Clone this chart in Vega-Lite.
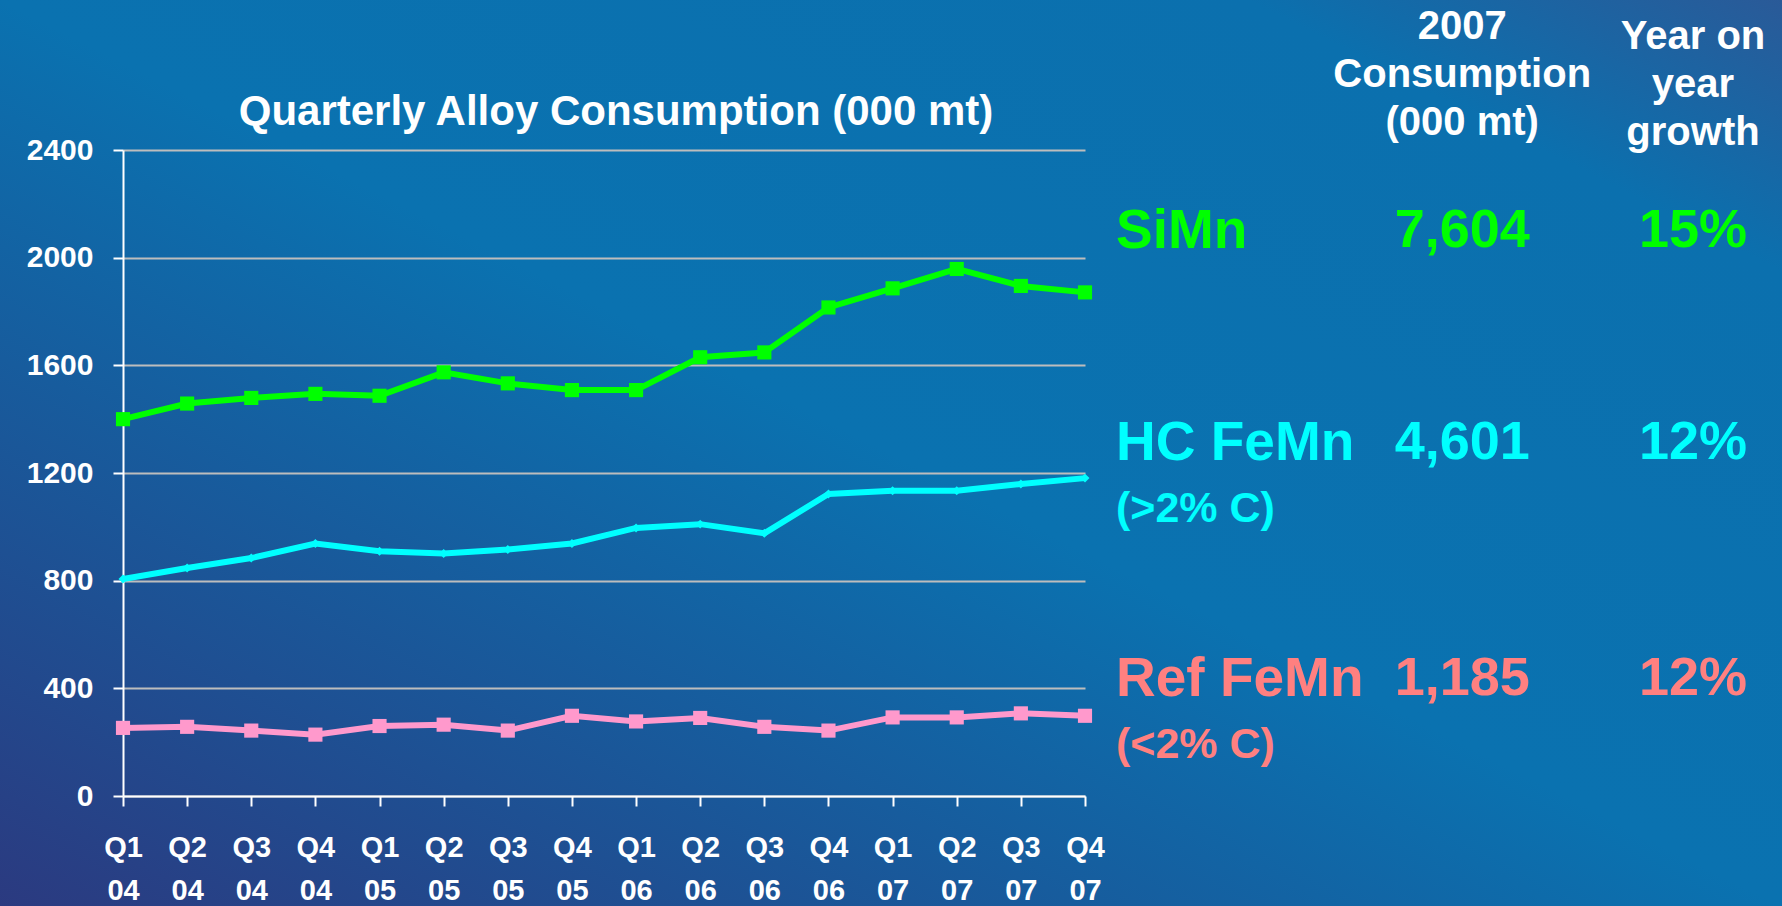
{
  "$schema": "https://vega.github.io/schema/vega-lite/v6.json",
  "width": 1782,
  "height": 906,
  "autosize": {"type": "none"},
  "padding": 0,
  "background": "#1b5e9e",
  "config": {
    "view": {
      "stroke": null,
      "fill": {
        "gradient": "linear",
        "x1": 0, "y1": 1, "x2": 1, "y2": 0,
        "stops": [
          {"offset": 0, "color": "#2b3a80"},
          {"offset": 0.5, "color": "#0a72b0"},
          {"offset": 0.85, "color": "#0b70ae"},
          {"offset": 1, "color": "#2a5a98"}
        ]
      }
    },
    "font": "Liberation Sans"
  },
  "title": {
    "text": "Quarterly Alloy Consumption (000 mt)",
    "orient": "top",
    "anchor": "middle",
    "frame": "group",
    "baseline": "alphabetic",
    "dx": -275,
    "dy": 167,
    "offset": 0,
    "font": "Liberation Sans",
    "fontSize": 42,
    "fontWeight": "bold",
    "color": "white"
  },
  "datasets": {
    "consumption": [
      {"quarter": "Q1 04", "series": "SiMn", "value": 1400},
      {"quarter": "Q2 04", "series": "SiMn", "value": 1458},
      {"quarter": "Q3 04", "series": "SiMn", "value": 1479},
      {"quarter": "Q4 04", "series": "SiMn", "value": 1494},
      {"quarter": "Q1 05", "series": "SiMn", "value": 1487},
      {"quarter": "Q2 05", "series": "SiMn", "value": 1574},
      {"quarter": "Q3 05", "series": "SiMn", "value": 1533},
      {"quarter": "Q4 05", "series": "SiMn", "value": 1508},
      {"quarter": "Q1 06", "series": "SiMn", "value": 1508},
      {"quarter": "Q2 06", "series": "SiMn", "value": 1630},
      {"quarter": "Q3 06", "series": "SiMn", "value": 1648},
      {"quarter": "Q4 06", "series": "SiMn", "value": 1815},
      {"quarter": "Q1 07", "series": "SiMn", "value": 1886},
      {"quarter": "Q2 07", "series": "SiMn", "value": 1958},
      {"quarter": "Q3 07", "series": "SiMn", "value": 1895},
      {"quarter": "Q4 07", "series": "SiMn", "value": 1871},
      {"quarter": "Q1 04", "series": "HC FeMn", "value": 806},
      {"quarter": "Q2 04", "series": "HC FeMn", "value": 847},
      {"quarter": "Q3 04", "series": "HC FeMn", "value": 884},
      {"quarter": "Q4 04", "series": "HC FeMn", "value": 938},
      {"quarter": "Q1 05", "series": "HC FeMn", "value": 909},
      {"quarter": "Q2 05", "series": "HC FeMn", "value": 901},
      {"quarter": "Q3 05", "series": "HC FeMn", "value": 916},
      {"quarter": "Q4 05", "series": "HC FeMn", "value": 938},
      {"quarter": "Q1 06", "series": "HC FeMn", "value": 996},
      {"quarter": "Q2 06", "series": "HC FeMn", "value": 1010},
      {"quarter": "Q3 06", "series": "HC FeMn", "value": 976},
      {"quarter": "Q4 06", "series": "HC FeMn", "value": 1122},
      {"quarter": "Q1 07", "series": "HC FeMn", "value": 1134},
      {"quarter": "Q2 07", "series": "HC FeMn", "value": 1134},
      {"quarter": "Q3 07", "series": "HC FeMn", "value": 1159},
      {"quarter": "Q4 07", "series": "HC FeMn", "value": 1181},
      {"quarter": "Q1 04", "series": "Ref FeMn", "value": 253},
      {"quarter": "Q2 04", "series": "Ref FeMn", "value": 257},
      {"quarter": "Q3 04", "series": "Ref FeMn", "value": 243},
      {"quarter": "Q4 04", "series": "Ref FeMn", "value": 228},
      {"quarter": "Q1 05", "series": "Ref FeMn", "value": 260},
      {"quarter": "Q2 05", "series": "Ref FeMn", "value": 265},
      {"quarter": "Q3 05", "series": "Ref FeMn", "value": 243},
      {"quarter": "Q4 05", "series": "Ref FeMn", "value": 298},
      {"quarter": "Q1 06", "series": "Ref FeMn", "value": 277},
      {"quarter": "Q2 06", "series": "Ref FeMn", "value": 290},
      {"quarter": "Q3 06", "series": "Ref FeMn", "value": 257},
      {"quarter": "Q4 06", "series": "Ref FeMn", "value": 243},
      {"quarter": "Q1 07", "series": "Ref FeMn", "value": 292},
      {"quarter": "Q2 07", "series": "Ref FeMn", "value": 292},
      {"quarter": "Q3 07", "series": "Ref FeMn", "value": 307},
      {"quarter": "Q4 07", "series": "Ref FeMn", "value": 298}
    ],
    "table": [
      {"kind": "header", "row": "header", "col": "cons", "grp": "header", "text": ["2007", "Consumption", "(000 mt)"]},
      {"kind": "header", "row": "header", "col": "growth", "grp": "header", "text": ["Year on", "year", "growth"]},
      {"kind": "name", "row": "SiMn", "col": "name", "grp": "SiMn", "text": "SiMn"},
      {"kind": "value", "row": "SiMn", "col": "cons", "grp": "SiMn", "text": "7,604"},
      {"kind": "value", "row": "SiMn", "col": "growth", "grp": "SiMn", "text": "15%"},
      {"kind": "name", "row": "HC FeMn", "col": "name", "grp": "HC FeMn", "text": "HC FeMn"},
      {"kind": "sub", "row": "HC FeMn", "col": "name", "grp": "HC FeMn", "text": "(>2% C)"},
      {"kind": "value", "row": "HC FeMn", "col": "cons", "grp": "HC FeMn", "text": "4,601"},
      {"kind": "value", "row": "HC FeMn", "col": "growth", "grp": "HC FeMn", "text": "12%"},
      {"kind": "name", "row": "Ref FeMn", "col": "name", "grp": "Ref FeMn", "text": "Ref  FeMn"},
      {"kind": "sub", "row": "Ref FeMn", "col": "name", "grp": "Ref FeMn", "text": "(<2% C)"},
      {"kind": "value", "row": "Ref FeMn", "col": "cons", "grp": "Ref FeMn", "text": "1,185"},
      {"kind": "value", "row": "Ref FeMn", "col": "growth", "grp": "Ref FeMn", "text": "12%"}
    ]
  },
  "layer": [
    {
      "data": {"name": "consumption"},
      "encoding": {
        "x": {
          "field": "quarter",
          "type": "nominal",
          "scale": {
            "type": "point",
            "domain": ["Q1 04", "Q2 04", "Q3 04", "Q4 04", "Q1 05", "Q2 05", "Q3 05", "Q4 05", "Q1 06", "Q2 06", "Q3 06", "Q4 06", "Q1 07", "Q2 07", "Q3 07", "Q4 07"],
            "range": [123, 1085],
            "padding": 0
          },
          "axis": {
            "title": null,
            "orient": "bottom",
            "offset": -110,
            "labelAngle": 0,
            "labelExpr": "split(datum.label, ' ')",
            "labelFont": "Liberation Sans",
            "labelFontWeight": "bold",
            "labelFontSize": 29,
            "labelColor": "white",
            "labelLineHeight": 43,
            "labelPadding": 27,
            "labelOverlap": false,
            "tickColor": "white",
            "tickSize": 10,
            "tickWidth": 2,
            "domainColor": "white",
            "domainWidth": 2,
            "grid": false
          }
        },
        "y": {
          "field": "value",
          "type": "quantitative",
          "scale": {"domain": [0, 2400], "range": [796, 150], "nice": false},
          "axis": {
            "title": null,
            "orient": "left",
            "offset": -123,
            "values": [0, 400, 800, 1200, 1600, 2000, 2400],
            "format": "d",
            "labelFont": "Liberation Sans",
            "labelFontWeight": "bold",
            "labelFontSize": 30,
            "labelColor": "white",
            "labelPadding": 20,
            "tickColor": "white",
            "tickSize": 10,
            "tickWidth": 2,
            "domainColor": "white",
            "domainWidth": 2,
            "grid": true,
            "gridColor": "#bdbdbd",
            "gridWidth": 2
          }
        },
        "color": {
          "field": "series",
          "type": "nominal",
          "scale": {"domain": ["SiMn", "HC FeMn", "Ref FeMn"], "range": ["#00ff00", "#00ffff", "#ff99cc"]},
          "legend": null
        }
      },
      "layer": [
        {
          "data": {"values": [{}]},
          "mark": {"type": "rule", "color": "#bdbdbd", "strokeWidth": 2},
          "encoding": {
            "x": {"datum": "Q4 07", "type": "nominal"},
            "y": {"datum": 0, "type": "quantitative"},
            "y2": {"datum": 2400},
            "color": {"value": "#bdbdbd"}
          }
        },
        {
          "mark": {"type": "line", "strokeWidth": 6}
        },
        {
          "transform": [{"filter": "datum.series !== 'HC FeMn'"}],
          "mark": {"type": "point", "shape": "square", "filled": true, "opacity": 1, "size": 200}
        },
        {
          "transform": [{"filter": "datum.series === 'HC FeMn'"}],
          "mark": {"type": "point", "shape": "diamond", "filled": true, "opacity": 1, "size": 80}
        }
      ]
    },
    {
      "data": {"name": "table"},
      "encoding": {
        "x": {
          "field": "col",
          "type": "nominal",
          "scale": {"type": "point", "domain": ["name", "gx1", "gx2", "cons", "gx3", "growth"], "range": [1116, 1693], "padding": 0},
          "axis": null
        },
        "y": {
          "field": "row",
          "type": "nominal",
          "scale": {
            "type": "point",
            "domain": ["header", "SiMn", "s1", "s2", "s3", "s4", "s5", "s6", "s7", "s8", "HC FeMn", "t1", "t2", "t3", "t4", "t5", "t6", "t7", "t8", "t9", "Ref FeMn"],
            "range": [207, 679],
            "padding": 0
          },
          "axis": null
        },
        "color": {
          "field": "grp",
          "type": "nominal",
          "scale": {"domain": ["header", "SiMn", "HC FeMn", "Ref FeMn"], "range": ["#ffffff", "#00ff00", "#00ffff", "#ff8080"]},
          "legend": null
        },
        "text": {"field": "text"}
      },
      "layer": [
        {
          "transform": [{"filter": "datum.kind === 'header' && datum.col === 'cons'"}],
          "mark": {"type": "text", "align": "center", "baseline": "middle", "dy": -180, "font": "Liberation Sans", "fontWeight": "bold", "fontSize": 40, "lineHeight": 48}
        },
        {
          "transform": [{"filter": "datum.kind === 'header' && datum.col === 'growth'"}],
          "mark": {"type": "text", "align": "center", "baseline": "middle", "dy": -170, "font": "Liberation Sans", "fontWeight": "bold", "fontSize": 40, "lineHeight": 48}
        },
        {
          "transform": [{"filter": "datum.kind === 'name'"}],
          "mark": {"type": "text", "align": "left", "baseline": "middle", "font": "Liberation Sans", "fontWeight": "bold", "fontSize": 55}
        },
        {
          "transform": [{"filter": "datum.kind === 'value'"}],
          "mark": {"type": "text", "align": "center", "baseline": "middle", "font": "Liberation Sans", "fontWeight": "bold", "fontSize": 54}
        },
        {
          "transform": [{"filter": "datum.kind === 'sub'"}],
          "mark": {"type": "text", "align": "left", "baseline": "middle", "dy": 66, "font": "Liberation Sans", "fontWeight": "bold", "fontSize": 43}
        }
      ]
    }
  ],
  "resolve": {
    "scale": {"x": "independent", "y": "independent", "color": "independent"}
  }
}
